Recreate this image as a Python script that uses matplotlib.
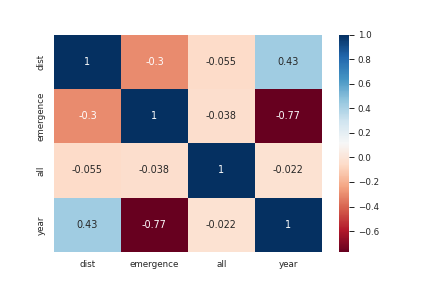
import numpy as np
import pandas as pd
import matplotlib
matplotlib.use("Agg")
import matplotlib.pyplot as plt
import seaborn as sns

labels = ["dist", "emergence", "all", "year"]
dist = [1, -0.3, -0.055, 0.43]
emergence = [-0.3, 1, -0.038, -0.77]
all_col = [-0.055, -0.038, 1, -0.022]
year = [0.43, -0.77, -0.022, 1]

sns.set_theme(style="white", context="paper")

corr = pd.DataFrame(
    np.array([dist, emergence, all_col, year]),
    index=labels,
    columns=labels,
)

fig, ax = plt.subplots(figsize=(6, 4), dpi=72)
fig.subplots_adjust(bottom=0.125)
sns.heatmap(corr, annot=True, cmap="RdBu", ax=ax)
fig.savefig("out.png", dpi=72)
